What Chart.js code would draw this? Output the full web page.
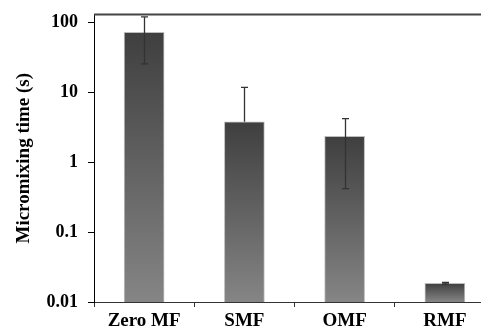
<!DOCTYPE html>
<html>
<head>
<meta charset="utf-8">
<script src="https://cdn.jsdelivr.net/npm/chart.js@4.4.1/dist/chart.umd.min.js"></script>
<style>
  html, body { margin: 0; padding: 0; background: #fff; overflow: hidden; }
  #wrap { width: 500px; height: 330px; }
</style>
</head>
<body>
<div id="wrap"><canvas id="chart" width="500" height="330"></canvas></div>
<script>
// categories and values
var labels = ['Zero MF', 'SMF', 'OMF', 'RMF'];
var times = [72, 3.8, 2.35, 0.0185];
var errHigh = [120, 11.8, 4.2, 0.019];
var errLow = [25.5, null, 0.42, 0.018];  // SMF lower bar falls below zero, not drawn
var yTicks = [100, 10, 1, 0.1, 0.01];

var serif = '"Liberation Serif", "Times New Roman", serif';

// per-bar vertical gradient, dark at the top
function barFill(ctx) {
  var chart = ctx.chart;
  var area = chart.chartArea;
  if (!area || ctx.type !== 'data') return '#555';
  var top = chart.scales.y.getPixelForValue(ctx.raw);
  var g = chart.ctx.createLinearGradient(0, top, 0, area.bottom);
  g.addColorStop(0, '#3f3f3f');
  g.addColorStop(1, '#858585');
  return g;
}

// error bars and top frame line
var extras = {
  id: 'extras',
  afterDatasetsDraw: function(chart) {
    var c = chart.ctx, y = chart.scales.y, area = chart.chartArea;
    var bars = chart.getDatasetMeta(0).data;
    c.save();
    c.strokeStyle = '#333';
    c.lineWidth = 1.3;
    bars.forEach(function(bar, i) {
      var x = Math.round(bar.x) + 0.5;
      var yv = y.getPixelForValue(times[i]);
      var yh = y.getPixelForValue(errHigh[i]);
      c.beginPath();
      c.moveTo(x, yv); c.lineTo(x, yh);
      c.moveTo(x - 3.5, yh); c.lineTo(x + 3.5, yh);
      if (errLow[i] != null) {
        var yl = y.getPixelForValue(errLow[i]);
        c.moveTo(x, yv); c.lineTo(x, yl);
        c.moveTo(x - 3.5, yl); c.lineTo(x + 3.5, yl);
      }
      c.stroke();
    });
    c.strokeStyle = '#444';
    c.lineWidth = 2;
    c.beginPath();
    c.moveTo(area.left, area.top);
    c.lineTo(area.right, area.top);
    c.stroke();
    c.restore();
  }
};

new Chart(document.getElementById('chart'), {
  type: 'bar',
  data: {
    labels: labels,
    datasets: [{
      data: times,
      backgroundColor: barFill,
      borderColor: '#bdbdbd',
      borderWidth: 1,
      barThickness: 40
    }]
  },
  options: {
    responsive: false,
    animation: false,
    layout: { padding: { top: 8, right: 5, left: 0, bottom: 0 } },
    plugins: { legend: { display: false }, tooltip: { enabled: false } },
    scales: {
      x: {
        offset: true,
        grid: { offset: true, drawOnChartArea: false, tickLength: 5, color: '#333' },
        border: { color: '#333', width: 1 },
        ticks: { color: '#000', font: { family: serif, size: 19, weight: 'bold', lineHeight: 1 }, padding: 5 },
        afterFit: function(s) { s.height = 28; }
      },
      y: {
        type: 'logarithmic',
        min: 0.01,
        max: 130,
        afterBuildTicks: function(s) { s.ticks = yTicks.map(function(v) { return { value: v }; }); },
        grid: { drawOnChartArea: false, tickLength: 6, color: '#000' },
        border: { color: '#000', width: 1 },
        ticks: {
          color: '#000',
          padding: 10,
          font: { family: serif, size: 18, weight: 'bold', lineHeight: 0.5 },
          callback: function(v) { return String(v); }
        },
        title: {
          display: true,
          text: 'Micromixing time (s)',
          color: '#000',
          font: { family: serif, size: 19, weight: 'bold' },
          padding: { top: 13, bottom: 0 }
        },
        afterFit: function(s) { s.width = 94; }
      }
    }
  },
  plugins: [extras]
});
</script>
</body>
</html>
